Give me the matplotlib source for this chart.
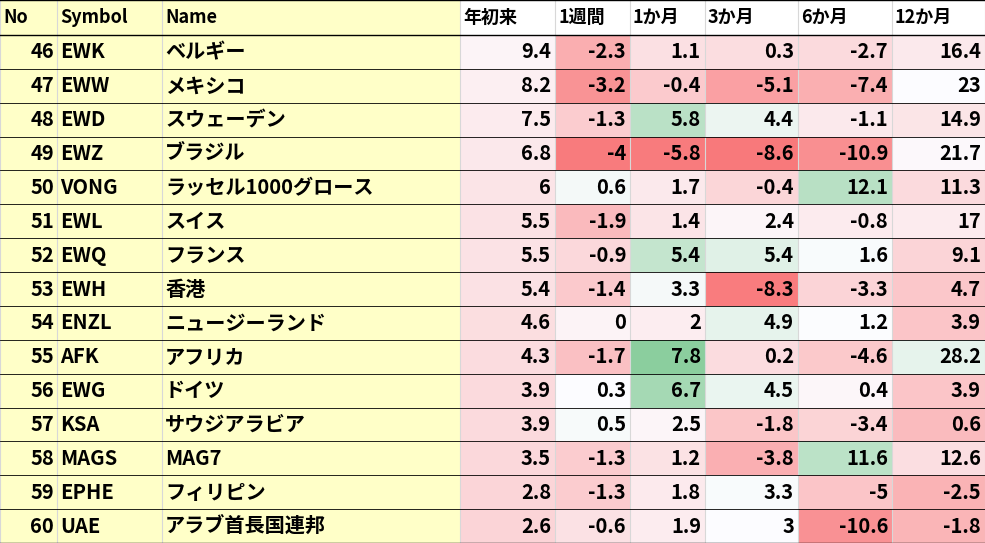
import numpy as np
import matplotlib.pyplot as plt
from matplotlib.colors import to_rgb

plt.rcParams['font.family'] = ['Noto Sans CJK JP', 'DejaVu Sans']

# ---------------------------------------------------------
# DATA
# ---------------------------------------------------------
headers = ["No", "Symbol", "Name", "年初来", "1週間", "1か月", "3か月", "6か月", "12か月"]
nos = [46, 47, 48, 49, 50, 51, 52, 53, 54, 55, 56, 57, 58, 59, 60]
symbols = ["EWK", "EWW", "EWD", "EWZ", "VONG", "EWL", "EWQ", "EWH", "ENZL",
           "AFK", "EWG", "KSA", "MAGS", "EPHE", "UAE"]
names = ["ベルギー", "メキシコ", "スウェーデン", "ブラジル", "ラッセル1000グロース",
         "スイス", "フランス", "香港", "ニュージーランド", "アフリカ", "ドイツ",
         "サウジアラビア", "MAG7", "フィリピン", "アラブ首長国連邦"]
ytd = [9.4, 8.2, 7.5, 6.8, 6, 5.5, 5.5, 5.4, 4.6, 4.3, 3.9, 3.9, 3.5, 2.8, 2.6]
w1 = [-2.3, -3.2, -1.3, -4, 0.6, -1.9, -0.9, -1.4, 0, -1.7, 0.3, 0.5, -1.3, -1.3, -0.6]
m1 = [1.1, -0.4, 5.8, -5.8, 1.7, 1.4, 5.4, 3.3, 2, 7.8, 6.7, 2.5, 1.2, 1.8, 1.9]
m3 = [0.3, -5.1, 4.4, -8.6, -0.4, 2.4, 5.4, -8.3, 4.9, 0.2, 4.5, -1.8, -3.8, 3.3, 3]
m6 = [-2.7, -7.4, -1.1, -10.9, 12.1, -0.8, 1.6, -3.3, 1.2, -4.6, 0.4, -3.4, 11.6, -5, -10.6]
m12 = [16.4, 23, 14.9, 21.7, 11.3, 17, 9.1, 4.7, 3.9, 28.2, 3.9, 0.6, 12.6, -2.5, -1.8]
value_cols = [ytd, w1, m1, m3, m6, m12]
# colour scale anchors (low, mid, high) per column
scales = [(-20, 11, 40), (-4.6, 0.3, 6), (-7, 3, 9.5), (-10, 3, 16), (-15, 1, 26), (-28, 23, 60)]

# ---------------------------------------------------------
# LAYOUT
# ---------------------------------------------------------
W, H = 985, 543
col_edges = [0, 57, 162, 460, 555, 630, 705, 798, 892, 985]
header_h = 35
row_h = (H - header_h) / len(nos)

RED = np.array(to_rgb("#F8696B"))
WHITE = np.array(to_rgb("#FCFCFF"))
GREEN = np.array(to_rgb("#63BE7B"))
YELLOW = "#FFFFC8"


def scale_color(v, lo, mid, hi):
    if v <= mid:
        t = min(1, (mid - v) / (mid - lo))
        return WHITE + (RED - WHITE) * t
    t = min(1, (v - mid) / (hi - mid))
    return WHITE + (GREEN - WHITE) * t


fig = plt.figure(figsize=(W / 100, H / 100), dpi=100)
ax = fig.add_axes([0, 0, 1, 1])
ax.set_xlim(0, W)
ax.set_ylim(H, 0)
ax.axis("off")

fs = 14.5

# header
for j, h in enumerate(headers):
    x0, x1 = col_edges[j], col_edges[j + 1]
    ax.add_patch(plt.Rectangle((x0, 0), x1 - x0, header_h,
                               facecolor=YELLOW if j < 3 else "white", edgecolor="none"))
    ax.text(x0 + 3, header_h / 2, h, ha="left", va="center", fontsize=13, fontweight="bold")

# body
for i in range(len(nos)):
    y0 = header_h + i * row_h
    yc = y0 + row_h / 2
    for j in range(3):
        ax.add_patch(plt.Rectangle((col_edges[j], y0), col_edges[j + 1] - col_edges[j], row_h,
                                   facecolor=YELLOW, edgecolor="none"))
    ax.text(col_edges[1] - 3, yc, str(nos[i]), ha="right", va="center", fontsize=fs, fontweight="bold")
    ax.text(col_edges[1] + 3, yc, symbols[i], ha="left", va="center", fontsize=fs, fontweight="bold")
    ax.text(col_edges[2] + 3, yc, names[i], ha="left", va="center", fontsize=fs, fontweight="bold")
    for k, vals in enumerate(value_cols):
        j = k + 3
        x0, x1 = col_edges[j], col_edges[j + 1]
        ax.add_patch(plt.Rectangle((x0, y0), x1 - x0, row_h,
                                   facecolor=scale_color(vals[i], *scales[k]), edgecolor="none"))
        ax.text(x1 - 4, yc, f"{vals[i]:g}", ha="right", va="center", fontsize=fs, fontweight="bold")

# grid lines
for x in col_edges:
    ax.plot([x, x], [0, H], color="#d8d8d8", lw=0.8)
for i in range(len(nos) + 2):
    y = 0 if i == 0 else header_h + (i - 1) * row_h
    ax.plot([0, W], [y, y], color="black", lw=1.0 if i in (0, 1) else 0.6)
ax.plot([0, W], [H - 0.5, H - 0.5], color="black", lw=1.0)

fig.savefig("out.png", dpi=100)
